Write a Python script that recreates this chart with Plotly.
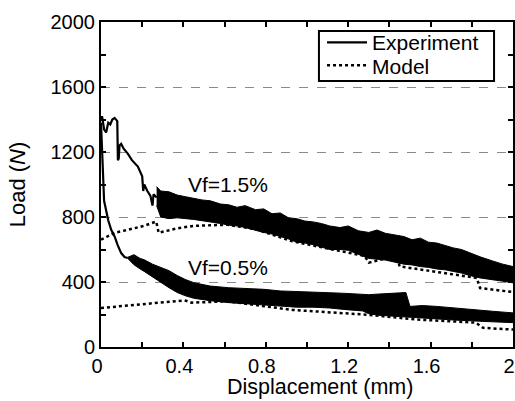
import plotly.graph_objects as go

# ---------------- data ----------------
# Vf = 1.5 % experiment: thin initial part
exp15_x = [0.0, 0.005, 0.015, 0.025, 0.035, 0.045, 0.055, 0.066, 0.079, 0.082, 0.086,
           0.090, 0.098, 0.110, 0.130, 0.150, 0.179, 0.200, 0.205, 0.210, 0.225, 0.240,
           0.250, 0.255, 0.270]
exp15_y = [1400, 1420, 1340, 1320, 1380, 1370, 1400, 1410, 1390, 1150, 1160,
           1240, 1250, 1220, 1190, 1150, 1110, 1050, 960, 1000, 960, 930,
           870, 940, 920]
# Vf = 1.5 % experiment: noisy band (upper / lower envelope)
band15_x = [0.27, 0.29, 0.33, 0.37, 0.41, 0.45, 0.49, 0.53, 0.58, 0.62, 0.66, 0.70, 0.75,
            0.79, 0.83, 0.87, 0.91, 0.95, 0.99, 1.03, 1.07, 1.11, 1.16, 1.20, 1.25, 1.30,
            1.34, 1.38, 1.43, 1.47, 1.51, 1.55, 1.59, 1.63, 1.67, 1.71, 1.75, 1.79, 1.84,
            1.90, 1.95, 2.0]
band15_hi = [987, 960, 955, 935, 925, 915, 905, 900, 880, 875, 860, 870, 845,
             850, 820, 825, 795, 790, 775, 770, 760, 745, 735, 745, 715, 705,
             720, 700, 690, 680, 660, 670, 645, 640, 625, 610, 600, 580, 555,
             530, 510, 495]
band15_lo = [870, 800, 790, 795, 790, 785, 780, 770, 760, 750, 745, 735, 720,
             705, 695, 680, 665, 645, 640, 630, 615, 600, 600, 595, 570, 545,
             540, 535, 520, 510, 505, 495, 490, 480, 475, 465, 455, 440, 425,
             415, 405, 395]

# Vf = 0.5 % experiment: thin initial part
exp05_x = [0.0, 0.005, 0.010, 0.015, 0.025, 0.035, 0.050, 0.066, 0.080, 0.098, 0.114, 0.130]
exp05_y = [1380, 1200, 1000, 900, 840, 780, 720, 680, 630, 578, 554, 548]
# Vf = 0.5 % experiment: noisy band
band05_x = [0.13, 0.16, 0.19, 0.21, 0.25, 0.29, 0.33, 0.37, 0.41, 0.45, 0.53, 0.62, 0.70,
            0.79, 0.87, 0.95, 1.03, 1.11, 1.19, 1.27, 1.30, 1.35, 1.40, 1.48, 1.50, 1.56,
            1.63, 1.71, 1.79, 1.90, 2.0]
band05_hi = [552, 568, 545, 537, 510, 488, 470, 440, 415, 396, 375, 365, 360,
             355, 345, 340, 338, 334, 330, 322, 322, 326, 330, 335, 250, 255,
             250, 240, 232, 220, 210]
band05_lo = [545, 506, 480, 465, 430, 400, 365, 335, 315, 300, 285, 273, 265,
             258, 252, 245, 245, 240, 230, 222, 205, 195, 190, 186, 180, 178,
             173, 166, 160, 155, 150]

# Model curves
mod15_x = [0.0, 0.066, 0.13, 0.21, 0.268, 0.28, 0.373, 0.454, 0.615, 0.75, 0.93, 1.1,
           1.28, 1.30, 1.354, 1.435, 1.45, 1.824, 1.84, 2.0]
mod15_y = [660, 703, 721, 746, 772, 703, 731, 746, 752, 725, 650, 605,
           560, 519, 537, 557, 496, 425, 363, 338]
mod05_x = [0.0, 0.13, 0.29, 0.406, 0.44, 0.615, 0.93, 1.3, 1.53, 1.71, 1.82, 1.855, 2.0]
mod05_y = [240, 255, 275, 287, 273, 281, 228, 198, 169, 158, 150, 118, 107]

x_ticks = [0, 0.4, 0.8, 1.2, 1.6, 2]
x_labels = ["0", "0.4", "0.8", "1.2", "1.6", "2"]
y_ticks = [0, 400, 800, 1200, 1600, 2000]

FONT = "Liberation Sans, Arial, Helvetica, sans-serif"

fig = go.Figure()


def band(xs, hi, lo):
    return go.Scatter(x=list(xs) + list(xs)[::-1], y=list(hi) + list(lo)[::-1],
                      fill="toself", fillcolor="black", mode="lines",
                      line=dict(color="black", width=1), showlegend=False,
                      hoverinfo="skip")


fig.add_trace(band(band15_x, band15_hi, band15_lo))
fig.add_trace(band(band05_x, band05_hi, band05_lo))
fig.add_trace(go.Scatter(x=exp15_x, y=exp15_y, mode="lines", name="Experiment",
                         line=dict(color="black", width=2.2), showlegend=True, legend="legend"))
fig.add_trace(go.Scatter(x=exp05_x, y=exp05_y, mode="lines", name="Experiment",
                         line=dict(color="black", width=2.2), showlegend=False))
fig.add_trace(go.Scatter(x=mod15_x, y=mod15_y, mode="lines", name="Model",
                         line=dict(color="black", width=2.5, dash="dot"), showlegend=True,
                         legend="legend2"))
fig.add_trace(go.Scatter(x=mod05_x, y=mod05_y, mode="lines", name="Model",
                         line=dict(color="black", width=2.5, dash="dot"), showlegend=False))

fig.add_annotation(x=0.615, y=1000, text="Vf=1.5%", showarrow=False,
                   font=dict(size=21, color="black", family=FONT))
fig.add_annotation(x=0.615, y=491, text="Vf=0.5%", showarrow=False,
                   font=dict(size=21, color="black", family=FONT))
# x-axis title (placed as in the reference, slightly right of centre)
fig.add_annotation(x=0.5316, y=-0.123, xref="paper", yref="paper", text="Displacement (mm)",
                   showarrow=False, yanchor="middle",
                   font=dict(size=21.5, color="black", family=FONT))

# legend frame
fig.add_shape(type="rect", xref="paper", yref="paper", x0=0.529, x1=0.954, y0=0.8185, y1=0.9723,
              line=dict(color="black", width=2), fillcolor="white", layer="above")

leg_common = dict(xanchor="left", yanchor="middle", bgcolor="rgba(0,0,0,0)", borderwidth=0,
                  font=dict(size=21, family=FONT, color="black"), itemwidth=40)

fig.update_layout(
    width=515, height=401,
    margin=dict(l=101, r=2, t=22, b=54, autoexpand=False),
    paper_bgcolor="white", plot_bgcolor="white",
    font=dict(family=FONT, size=20, color="black"),
    legend=dict(x=0.5365, y=0.9365, **leg_common),
    legend2=dict(x=0.5365, y=0.8655, **leg_common),
)
fig.update_xaxes(
    range=[0, 2], tickvals=x_ticks, ticktext=x_labels, automargin=False,
    ticklabelshift=-4,
    ticks="inside", ticklen=5, tickwidth=1.5, tickcolor="black",
    minor=dict(dtick=0.2, tick0=0, ticks="inside", ticklen=5, tickwidth=1.5, tickcolor="black", showgrid=False),
    showline=True, linecolor="black", linewidth=2, mirror="ticks",
    showgrid=False, zeroline=False,
)
fig.update_yaxes(
    range=[0, 2000], tickvals=y_ticks, automargin=False,
    ticks="inside", ticklen=5, tickwidth=1.5, tickcolor="black",
    minor=dict(dtick=200, tick0=0, ticks="inside", ticklen=5, tickwidth=1.5, tickcolor="black", showgrid=False),
    showline=True, linecolor="black", linewidth=2, mirror="ticks",
    showgrid=True, gridcolor="#8a8a8a", griddash="dash", gridwidth=1, zeroline=False,
    title=dict(text="Load (<i>N</i>)", font=dict(size=22), standoff=19),
)

fig.write_html("out.html", config={"displayModeBar": False},
               post_script="document.body.style.margin='0';document.body.style.overflow='hidden';")
